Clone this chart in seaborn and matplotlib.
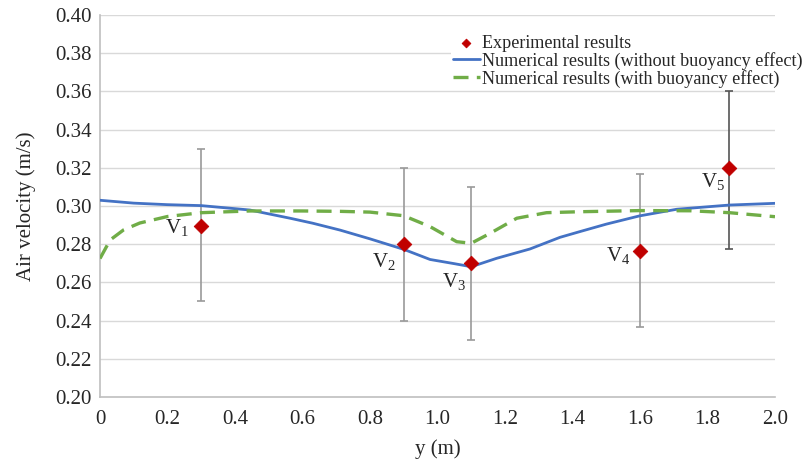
import matplotlib
matplotlib.use("Agg")
import matplotlib.pyplot as plt
import seaborn as sns
import pandas as pd

# experimental points (with error bars)
exp_y = [0.30, 0.90, 1.10, 1.60, 1.865]
exp_v = [0.2895, 0.280, 0.270, 0.2765, 0.320]
err_low = [0.250, 0.240, 0.230, 0.2365, 0.2775]
err_high = [0.330, 0.320, 0.310, 0.3165, 0.360]
point_names = ["V$_1$", "V$_2$", "V$_3$", "V$_4$", "V$_5$"]
name_pos_y = [0.228, 0.840, 1.050, 1.535, 1.816]
name_pos_v = [0.2885, 0.2707, 0.2607, 0.2743, 0.3126]

# numerical, without buoyancy effect
nb_y = [0.0, 0.10, 0.20, 0.30, 0.444, 0.563, 0.63, 0.711, 0.80, 0.90, 0.978,
        1.05, 1.10, 1.175, 1.274, 1.363, 1.422, 1.50, 1.598, 1.709, 1.865, 2.0]
nb_v = [0.3030, 0.3015, 0.3007, 0.3002, 0.2979, 0.2936, 0.2910, 0.2874, 0.2828, 0.2773, 0.2720,
        0.2698, 0.2682, 0.2726, 0.2775, 0.2836, 0.2866, 0.2905, 0.2948, 0.2983, 0.3005, 0.3014]

# numerical, with buoyancy effect
wb_y = [0.0, 0.03, 0.07, 0.118, 0.20, 0.30, 0.444, 0.60, 0.711, 0.80, 0.90, 0.978,
        1.057, 1.10, 1.156, 1.235, 1.323, 1.422, 1.60, 1.75, 1.865, 2.0]
wb_v = [0.2725, 0.2822, 0.2875, 0.2911, 0.2945, 0.2965, 0.2974, 0.2974, 0.2972, 0.2968, 0.2949, 0.2892,
        0.2813, 0.2805, 0.2857, 0.2936, 0.2965, 0.2970, 0.2976, 0.2975, 0.2965, 0.2944]

x_ticks = [0, 0.2, 0.4, 0.6, 0.8, 1.0, 1.2, 1.4, 1.6, 1.8, 2.0]
x_tick_labels = ["0", "0.2", "0.4", "0.6", "0.8", "1.0", "1.2", "1.4", "1.6", "1.8", "2.0"]
y_ticks = [0.20, 0.22, 0.24, 0.26, 0.28, 0.30, 0.32, 0.34, 0.36, 0.38, 0.40]

sns.set_style("white")
plt.rcParams['font.family'] = ['Liberation Serif', 'DejaVu Serif']
plt.rcParams['mathtext.fontset'] = 'custom'
plt.rcParams['mathtext.rm'] = 'Liberation Serif'
plt.rcParams['mathtext.it'] = 'Liberation Serif'

blue = "#4472C4"
green = "#70AD47"
red = "#C00000"

fig = plt.figure(figsize=(8.06, 4.65), dpi=100)
ax = fig.add_axes([100 / 806, 1 - 397 / 465, 675 / 806, 382 / 465])

for yv in y_ticks[1:]:
    ax.axhline(yv, color="#d9d9d9", lw=1.0, zorder=0)

# error bars
lows = [v - l for v, l in zip(exp_v, err_low)]
highs = [h - v for v, h in zip(exp_v, err_high)]
bar_colors = ["#9a9a9a", "#9a9a9a", "#9a9a9a", "#9a9a9a", "#555555"]
for i in range(len(exp_y)):
    ax.errorbar([exp_y[i]], [exp_v[i]], yerr=[[lows[i]], [highs[i]]], fmt="none",
                ecolor=bar_colors[i], elinewidth=1.2, capsize=3, capthick=1.2, zorder=2)

nb = pd.DataFrame({"y": nb_y, "v": nb_v})
wb = pd.DataFrame({"y": wb_y, "v": wb_v})
ex = pd.DataFrame({"y": exp_y, "v": exp_v})

sns.lineplot(data=nb, x="y", y="v", ax=ax, color=blue, lw=2.0, zorder=3,
             label="Numerical results (without buoyancy effect)")
sns.lineplot(data=wb, x="y", y="v", ax=ax, color=green, lw=2.4, zorder=3,
             linestyle=(0, (4.5, 2.5)), label="Numerical results (with buoyancy effect)")
sns.scatterplot(data=ex, x="y", y="v", ax=ax, color=red, marker="D", s=55,
                edgecolor=red, zorder=4, label="Experimental results")

for name, px, pv in zip(point_names, name_pos_y, name_pos_v):
    ax.text(px, pv, name, fontsize=15, ha="center", va="center", zorder=5)

ax.set_xlim(0, 2.0)
ax.set_ylim(0.20, 0.40)
ax.set_xticks(x_ticks)
ax.set_xticklabels(x_tick_labels)
ax.set_yticks(y_ticks)
ax.set_yticklabels([f"{t:.2f}" for t in y_ticks])
ax.tick_params(axis="both", labelsize=15, length=0)
ax.tick_params(axis="y", pad=6)
ax.tick_params(axis="x", pad=9)
ax.set_xlabel("y (m)", fontsize=15, labelpad=8)
ax.set_ylabel("Air velocity (m/s)", fontsize=15, labelpad=14)

for side in ["top", "right"]:
    ax.spines[side].set_visible(False)
for side in ["left", "bottom"]:
    ax.spines[side].set_color("#bfbfbf")
    ax.spines[side].set_linewidth(1.2)

handles, labels = ax.get_legend_handles_labels()
order = [2, 0, 1]
leg = ax.legend([handles[i] for i in order], [labels[i] for i in order],
                loc="upper left", bbox_to_anchor=(451 / 806, 1 - 33 / 465),
                bbox_transform=fig.transFigure, frameon=True, fontsize=13.1,
                labelspacing=0.0, handlelength=1.5, handletextpad=0.1,
                borderpad=0.1, markerscale=0.6, borderaxespad=0)
leg.get_frame().set_edgecolor("none")
leg.get_frame().set_facecolor("white")
leg.get_frame().set_alpha(1.0)
leg.set_zorder(6)

fig.savefig("out.png", dpi=100)
